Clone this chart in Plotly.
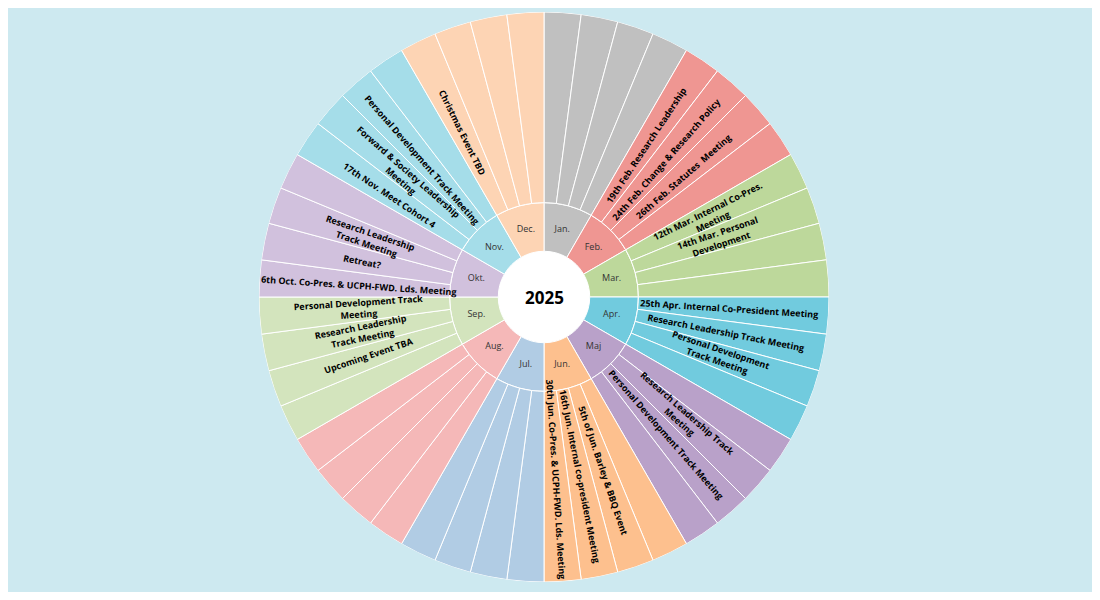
import numpy as np
import plotly.graph_objects as go

year = "2025"
months = ["Jan.", "Feb.", "Mar.", "Apr.", "Maj", "Jun.", "Jul.", "Aug.", "Sep.", "Okt.", "Nov.", "Dec."]
month_colors = ["#c0c0c0", "#ef9692", "#bdd89b", "#71cbde", "#b9a1c9", "#fdc08e",
                "#b1cce4", "#f5b8b8", "#d3e4bd", "#d1c1dd", "#a5dde9", "#fdd4b4"]
# four event slots per month, clockwise
events = [
    ["", "", "", ""],
    ["19th Feb. Research Leadership", "24th Feb. Change & Research Policy", "26th Feb. Statutes  Meeting", ""],
    ["12th Mar. Internal Co-Pres.<br>Meeting", "14th Mar. Personal<br>Development", "", ""],
    ["25th Apr. Internal Co-President Meeting", "Research Leadership Track Meeting", "Personal Development<br>Track Meeting", ""],
    ["", "Research Leadership Track<br>Meeting", "Personal Development Track Meeting", ""],
    ["", "5th of Jun. Barley & BBQ Event", "16th Jun. Internal co-president Meeting", "30th Jun. Co-Pres. & UCPH-FWD. Lds. Meeting"],
    ["", "", "", ""],
    ["", "", "", ""],
    ["", "Upcoming Event TBA", "Research Leadership<br>Track Meeting", "Personal Development Track<br>Meeting"],
    ["6th Oct. Co-Pres. & UCPH-FWD. Lds. Meeting", "Retreat?", "Research Leadership<br>Track Meeting", ""],
    ["17th Nov. Meet Cohort 4", "Forward & Society Leadership<br>Meeting", "Personal Development Track Meeting", ""],
    ["Christmas Event TBD", "", "", ""],
]

R_HOLE, R_MONTH, R_OUT, R_TEXT = 47, 97, 293, 188
n_slots = 4
m_width = 360 / len(months)
s_width = m_width / n_slots

m_theta = [m_width * (i + 0.5) for i in range(len(months))]
s_theta, s_color, s_text = [], [], []
for i, evs in enumerate(events):
    for j, t in enumerate(evs):
        s_theta.append(m_width * i + s_width * (j + 0.5))
        s_color.append(month_colors[i])
        s_text.append(t)

fig = go.Figure()
fig.add_trace(go.Barpolar(theta=[0], r=[R_HOLE], width=[360], base=0,
                          marker=dict(color="white", line=dict(width=0)), hoverinfo="skip"))
fig.add_trace(go.Barpolar(theta=m_theta, r=[R_MONTH - R_HOLE] * 12, base=R_HOLE, width=m_width,
                          marker=dict(color=month_colors, line=dict(color="white", width=1)), hoverinfo="skip"))
fig.add_trace(go.Barpolar(theta=s_theta, r=[R_OUT - R_MONTH] * len(s_theta), base=R_MONTH, width=s_width,
                          marker=dict(color=s_color, line=dict(color="white", width=1)), hoverinfo="skip"))
fig.add_trace(go.Scatterpolar(theta=m_theta, r=[72] * 12, mode="text", text=months,
                              textfont=dict(size=9, color="#333", family="Open Sans"), hoverinfo="skip"))

# radial event labels on a hidden pixel-scaled cartesian axis
for th, t in zip(s_theta, s_text):
    if not t:
        continue
    rad = np.radians(th)
    ang = th - 90 if th <= 200 else th - 270
    fig.add_annotation(x=R_TEXT * np.sin(rad), y=R_TEXT * np.cos(rad), text="<b>" + t + "</b>",
                       textangle=ang, showarrow=False, xref="x", yref="y",
                       font=dict(size=9, color="black", family="Open Sans"))
fig.add_annotation(x=0, y=0, text="<b>" + year + "</b>", showarrow=False, xref="x", yref="y",
                   font=dict(size=17, color="black", family="Open Sans"))

fig.update_layout(
    autosize=True, showlegend=False,
    margin=dict(l=0, r=12, t=4, b=10),
    paper_bgcolor="#cde9f0", plot_bgcolor="rgba(0,0,0,0)",
    polar=dict(bgcolor="rgba(0,0,0,0)", domain=dict(x=[0, 1], y=[0, 1]),
               radialaxis=dict(range=[0, R_OUT], visible=False),
               angularaxis=dict(rotation=90, direction="clockwise", visible=False)),
    xaxis=dict(range=[-544, 544], visible=False, fixedrange=True),
    yaxis=dict(range=[-293, 293], visible=False, fixedrange=True),
)
fig.write_html("out.html", config={"responsive": True}, default_height="100%", default_width="100%")
